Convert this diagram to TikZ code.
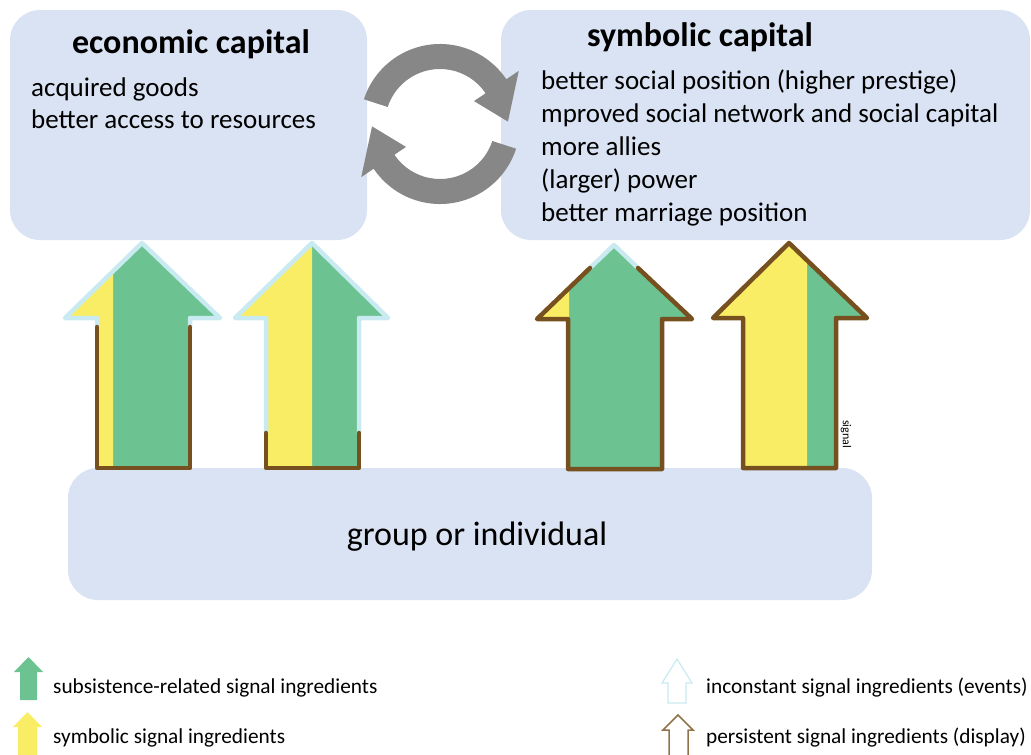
\documentclass[tikz,border=0pt]{standalone}
\usepackage{fontspec}
\setmainfont{Carlito}
\definecolor{boxblue}{HTML}{DAE3F3}
\definecolor{siggreen}{HTML}{6CC291}
\definecolor{sigyellow}{HTML}{FAED66}
\definecolor{sigbrown}{HTML}{76511F}
\definecolor{sigcyan}{HTML}{C8EAF0}
\definecolor{cyclegray}{HTML}{878787}

\begin{document}
\begin{tikzpicture}[x=1pt,y=-1pt,
	capbox/.style={fill=boxblue,rounded corners=30pt,inner sep=0pt},
	captitle/.style={anchor=base,inner sep=0pt,font=\bfseries\fontsize{34}{40}\selectfont},
	capline/.style={anchor=base west,inner sep=0pt,font=\fontsize{27}{32}\selectfont},
	legline/.style={anchor=base west,inner sep=0pt,font=\fontsize{21.3}{25}\selectfont},
	sigedge/.style={line width=4.5pt,line join=round,line cap=round}]
	\useasboundingbox (0,0) rectangle (1031,755);
	% the three boxes
	\node[capbox,minimum width=357pt,minimum height=230pt] (econ) at (188.5,125) {};
	\node[capbox,minimum width=529pt,minimum height=230pt] (symb) at (765.5,125) {};
	\node[capbox,minimum width=804pt,minimum height=132pt] (group) at (470,534) {};
	\node[captitle] (econtitle) at (191,53) {economic capital};
	\node[capline] (econ1) at (31,96) {acquired goods};
	\node[capline] (econ2) at (31,128) {better access to resources};
	\node[captitle] (symbtitle) at (700,46) {symbolic capital};
	\node[capline] (symb1) at (541,89.5) {better social position (higher prestige)};
	\node[capline] (symb2) at (541,122.5) {mproved social network and social capital};
	\node[capline] (symb3) at (541,155.5) {more allies};
	\node[capline] (symb4) at (541,188.5) {(larger) power};
	\node[capline] (symb5) at (541,221.5) {better marriage position};
	\node[anchor=base,inner sep=0pt,font=\fontsize{34}{40}\selectfont] (grouptext) at (477,545) {group or individual};
	% cycle between the capitals
	\begin{scope}[shift={(440,124)}]
	\fill[cyclegray] (-162:80) arc[start angle=-162,end angle=-34,radius=80] -- (-34:95) -- (-2:68)
		-- (-34:41) -- (-34:55) arc[start angle=-34,end angle=-162,radius=55] -- cycle;
	\fill[cyclegray] (18:80) arc[start angle=18,end angle=146,radius=80] -- (146:95) -- (178:68)
		-- (146:41) -- (146:55) arc[start angle=146,end angle=18,radius=55] -- cycle;
	\end{scope}
	% arrow 1
	\fill[siggreen] (142,243) -- (220,318) -- (190,318) -- (190,468) -- (97,468) -- (97,318) -- (65,318) -- cycle;
	\fill[sigyellow] (113,271) -- (65,318) -- (97,318) -- (97,468) -- (113,468) -- cycle;
	\draw[sigcyan,sigedge] (97,327) -- (97,318) -- (65,318) -- (142,243) -- (220,318) -- (190,318) -- (190,327);
	\draw[sigbrown,sigedge] (97,327) -- (97,468) -- (190,468) -- (190,327);
	% arrow 2
	\fill[siggreen] (312,243) -- (388,318) -- (359,318) -- (359,468) -- (266,468) -- (266,318) -- (235,318) -- cycle;
	\fill[sigyellow] (312,243) -- (235,318) -- (266,318) -- (266,468) -- (312,468) -- cycle;
	\draw[sigcyan,sigedge] (266,433) -- (266,318) -- (235,318) -- (312,243) -- (388,318) -- (359,318) -- (359,433);
	\draw[sigbrown,sigedge] (266,433) -- (266,468) -- (359,468) -- (359,433);
	% arrow 3
	\fill[siggreen] (614,245) -- (692,319) -- (662,319) -- (662,469) -- (568,469) -- (568,319) -- (537,319) -- cycle;
	\fill[sigyellow] (569,288) -- (537,319) -- (569,319) -- cycle;
	\draw[sigcyan,sigedge] (590,268) -- (614,245) -- (638,268);
	\draw[sigbrown,sigedge] (590,268) -- (537,319) -- (568,319) -- (568,469) -- (662,469) -- (662,319) -- (692,319) -- (638,268);
	% arrow 4
	\fill[siggreen] (789,243) -- (867,318) -- (836,318) -- (836,468) -- (743,468) -- (743,318) -- (713,318) -- cycle;
	\fill[sigyellow] (713,318) -- (789,243) -- (807,260.3) -- (807,468) -- (743,468) -- (743,318) -- cycle;
	\draw[sigbrown,sigedge] (789,243) -- (867,318) -- (836,318) -- (836,468) -- (743,468) -- (743,318) -- (713,318) -- cycle;
	\node[rotate=-90,inner sep=0pt,font=\fontsize{12}{14}\selectfont] (siglabel) at (846,434) {signal};
	% legend
	\fill[siggreen] (28.5,657) -- (43,672) -- (37,672) -- (37,700) -- (20,700) -- (20,672) -- (14,672) -- cycle;
	\fill[sigyellow] (27.5,712) -- (42,727) -- (37,727) -- (37,756) -- (18,756) -- (18,727) -- (13,727) -- cycle;
	\draw[sigcyan,line width=1.2pt] (677,659) -- (692,683) -- (686,683) -- (686,703) -- (668,703) -- (668,683) -- (662,683) -- cycle;
	\draw[sigbrown!80,line width=1.5pt] (669,756) -- (669,730) -- (663,730) -- (678,715) -- (693,730) -- (688,730) -- (688,756);
	\node[legline] (leg1) at (53,693) {subsistence-related signal ingredients};
	\node[legline] (leg2) at (53,743) {symbolic signal ingredients};
	\node[legline] (leg3) at (706,693) {inconstant signal ingredients (events)};
	\node[legline] (leg4) at (706,743) {persistent signal ingredients (display)};
\end{tikzpicture}
\end{document}
